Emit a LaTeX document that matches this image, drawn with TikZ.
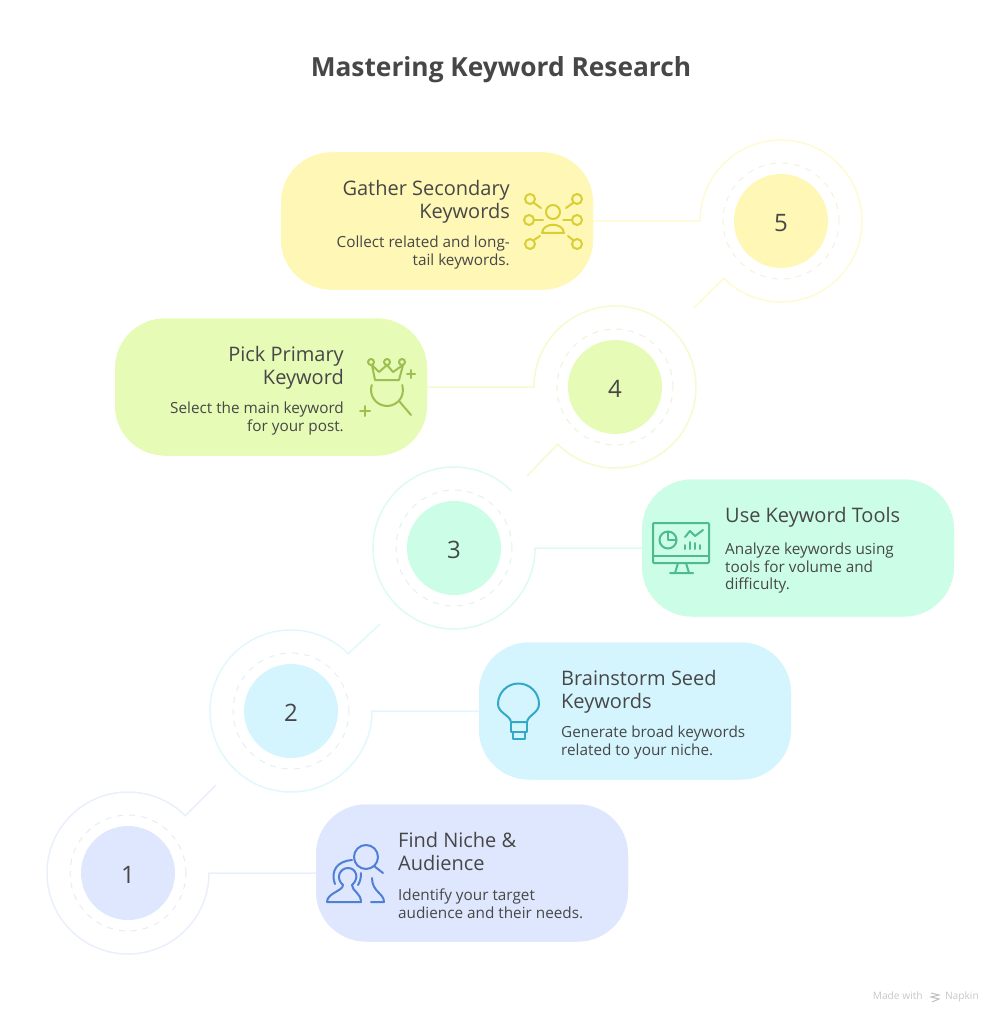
\documentclass[tikz,border=0pt]{standalone}
\usepackage{fontspec}
\setmainfont{Open Sans}
\definecolor{ink}{HTML}{474747}
\definecolor{fillA}{HTML}{DEE7FD}
\definecolor{fillB}{HTML}{D4F4FE}
\definecolor{fillC}{HTML}{CBFDE7}
\definecolor{fillD}{HTML}{E5FBB6}
\definecolor{fillE}{HTML}{FFF7B5}
\definecolor{lineA}{HTML}{E9EFFC}
\definecolor{lineB}{HTML}{E1F7FD}
\definecolor{lineC}{HTML}{DDFBEE}
\definecolor{lineD}{HTML}{F1FCCF}
\definecolor{lineE}{HTML}{FEFAD2}
\definecolor{iconA}{HTML}{4F7FD6}
\definecolor{iconB}{HTML}{33A9C9}
\definecolor{iconC}{HTML}{4DBB8E}
\definecolor{iconD}{HTML}{9DBF52}
\definecolor{iconE}{HTML}{D8CF35}
\tikzset{
  card/.style={rounded corners=50pt, minimum width=312pt, minimum height=137pt, inner sep=0pt},
  numdisc/.style={circle, minimum size=94pt, inner sep=0pt, text=ink, text height=21pt, text depth=0pt, font=\fontsize{24}{28}\selectfont},
  dashring/.style={dash pattern=on 6pt off 6pt, line width=1pt},
  wire/.style={line width=1.5pt},
  icon/.style={line width=2pt, line cap=round, line join=round},
  head/.style={inner sep=0pt, text=ink, font=\fontsize{20}{23.5}\selectfont},
  desc/.style={inner sep=0pt, text=ink, font=\fontsize{15.3}{17.5}\selectfont}
}
\begin{document}
\begin{tikzpicture}[x=1pt,y=-1pt]
  \useasboundingbox (0,0) rectangle (1002,1024);
  \node[text=ink, inner sep=0pt, font=\bfseries\fontsize{26.3}{32}\selectfont] (title) at (501,70) {Mastering Keyword Research};

  % cards
  \node[card, fill=fillE] (card5) at (437,221) {};
  \node[card, fill=fillD] (card4) at (271,387) {};
  \node[card, fill=fillC] (card3) at (798,548) {};
  \node[card, fill=fillB] (card2) at (635,711) {};
  \node[card, fill=fillA] (card1) at (472,873) {};

  % numbered discs
  \node[numdisc, fill=fillE] (num5) at (781,221) {5};
  \node[numdisc, fill=fillD] (num4) at (615,387) {4};
  \node[numdisc, fill=fillC] (num3) at (454,548) {3};
  \node[numdisc, fill=fillB] (num2) at (291,711) {2};
  \node[numdisc, fill=fillA] (num1) at (128,873) {1};

  \draw[dashring, lineE!85!gray!60] (num5) circle (58pt);
  \draw[dashring, lineD!85!gray!60] (num4) circle (58pt);
  \draw[dashring, lineC!85!gray!60] (num3) circle (58pt);
  \draw[dashring, lineB!85!gray!60] (num2) circle (58pt);
  \draw[dashring, lineA!85!gray!60] (num1) circle (58pt);

  % rings and wires
  \coordinate (ring5) at (700,221);
  \coordinate (ring4) at (534,387);
  \coordinate (ring3) at (535,548);
  \coordinate (ring2) at (372,711);
  \coordinate (ring1) at (209,873);
  \coordinate (tail5) at (694,308);
  \coordinate (tail4) at (527,476);
  \coordinate (tail2) at (380,624);
  \coordinate (tail1) at (216,785);

  \draw[wire, lineE] (card5) -- (ring5) arc[start angle=180, end angle=-135, radius=81pt] -- (tail5);
  \draw[wire, lineD] (card4) -- (ring4) arc[start angle=180, end angle=-135, radius=81pt] -- (tail4);
  \draw[wire, lineC] (card3) -- (ring3) arc[start angle=0, end angle=-315, radius=81pt];
  \draw[wire, lineB] (card2) -- (ring2) arc[start angle=0, end angle=-315, radius=81pt] -- (tail2);
  \draw[wire, lineA] (card1) -- (ring1) arc[start angle=0, end angle=-315, radius=81pt] -- (tail1);
  % cards again, so the wires stop at their edge
  \node[card, fill=fillE] at (card5) {};
  \node[card, fill=fillD] at (card4) {};
  \node[card, fill=fillC] at (card3) {};
  \node[card, fill=fillB] at (card2) {};
  \node[card, fill=fillA] at (card1) {};

  % texts
  \node[head, anchor=north east, align=right] (head5) at (510,180) {Gather Secondary\\Keywords};
  \node[desc, anchor=north east, align=right] (desc5) at (510,236) {Collect related and long-\\tail keywords.};
  \node[head, anchor=north east, align=right] (head4) at (344,346) {Pick Primary\\Keyword};
  \node[desc, anchor=north east, align=right] (desc4) at (344,402) {Select the main keyword\\for your post.};
  \node[head, anchor=north west, align=left] (head3) at (725,507) {Use Keyword Tools};
  \node[desc, anchor=north west, align=left] (desc3) at (725,543) {Analyze keywords using\\tools for volume and\\difficulty.};
  \node[head, anchor=north west, align=left] (head2) at (561,670) {Brainstorm Seed\\Keywords};
  \node[desc, anchor=north west, align=left] (desc2) at (561,726) {Generate broad keywords\\related to your niche.};
  \node[head, anchor=north west, align=left] (head1) at (398,832) {Find Niche \&\\Audience};
  \node[desc, anchor=north west, align=left] (desc1) at (398,889) {Identify your target\\audience and their needs.};

  % icon: people network
  \begin{scope}[icon, iconE]
    \draw (553,212) circle (7pt);
    \draw (542,233) .. controls (543,222) and (563,222) .. (564,233) -- cycle;
    \draw (530,199) circle (5pt) (577,199) circle (5pt);
    \draw (529,220) circle (5pt) (577,220) circle (5pt);
    \draw (530,244) circle (5pt) (577,244) circle (5pt);
    \draw (534,203) -- (541,208) (573,203) -- (566,208);
    \draw (534,220) -- (543,220) (572,220) -- (563,220);
    \draw (534,240) -- (540,236) (573,240) -- (568,236);
  \end{scope}

  % icon: crown and lens
  \begin{scope}[icon, iconD]
    \draw (371,362) circle (3pt) (387,362) circle (3pt) (402,362) circle (3pt);
    \draw (372,365) -- (375,380) -- (399,380) -- (403,365) -- (393,372) -- (387,365) -- (379,372) -- cycle;
    \draw (371.8,385) arc[start angle=162, end angle=378, radius=16pt];
    \draw (399,401) -- (411,415);
    \draw (407,374) -- (415,374) (411,370) -- (411,378);
    \draw (360,411) -- (370,411) (365,406) -- (365,416);
  \end{scope}

  % icon: monitor
  \begin{scope}[icon, iconC]
    \draw[rounded corners=1pt] (653,523) rectangle (709,563);
    \draw (653,556) -- (709,556);
    \draw (678,563) -- (675,573) (686,563) -- (689,573) (670,573) -- (693,573);
    \draw (668,540) circle (8.5pt);
    \draw (668,531.5) -- (668,540) -- (676.5,540);
    \draw (685,537) -- (690,531) -- (695,536) -- (703,530);
    \draw (685,549) -- (685,545) (690,549) -- (690,542) (695,549) -- (695,543) (700,549) -- (700,545);
  \end{scope}

  % icon: bulb
  \begin{scope}[icon, iconB]
    \draw (511,722) .. controls (510,715) and (498,713) .. (498,704) arc[start angle=180, end angle=0, radius=20.5pt] .. controls (539,713) and (528,715) .. (527,722) -- cycle;
    \draw (511,722) -- (511,732) -- (527,732) -- (527,722);
    \draw (513,732) -- (513,739) -- (525,739) -- (525,732);
  \end{scope}

  % icon: people and lens
  \begin{scope}[icon, iconA]
    \draw (366,857) circle (12pt);
    \draw (374,866) -- (383,873);
    \draw (327,902) -- (361,902) .. controls (361,893) and (352,891) .. (352,885) .. controls (360,878) and (356,868) .. (348,868) .. controls (340,868) and (335,878) .. (343,885) .. controls (343,891) and (327,893) .. (327,902);
    \draw (335,884) .. controls (330,870) and (338,861) .. (352,860);
    \draw (361,873) .. controls (361,878) and (360,882) .. (358,885);
    \draw (371,902) -- (384,902) .. controls (384,893) and (372,892) .. (372,878);
  \end{scope}

  \node[text=black!22, inner sep=0pt, anchor=east, font=\fontsize{10.2}{12}\selectfont] (mark) at (979,997) {Made with \hspace{17pt} Napkin};
  \draw[black!25, line width=1pt] (931,993) -- (939,995) -- (931,997) -- (939,999) -- (932,1002);
\end{tikzpicture}
\end{document}
